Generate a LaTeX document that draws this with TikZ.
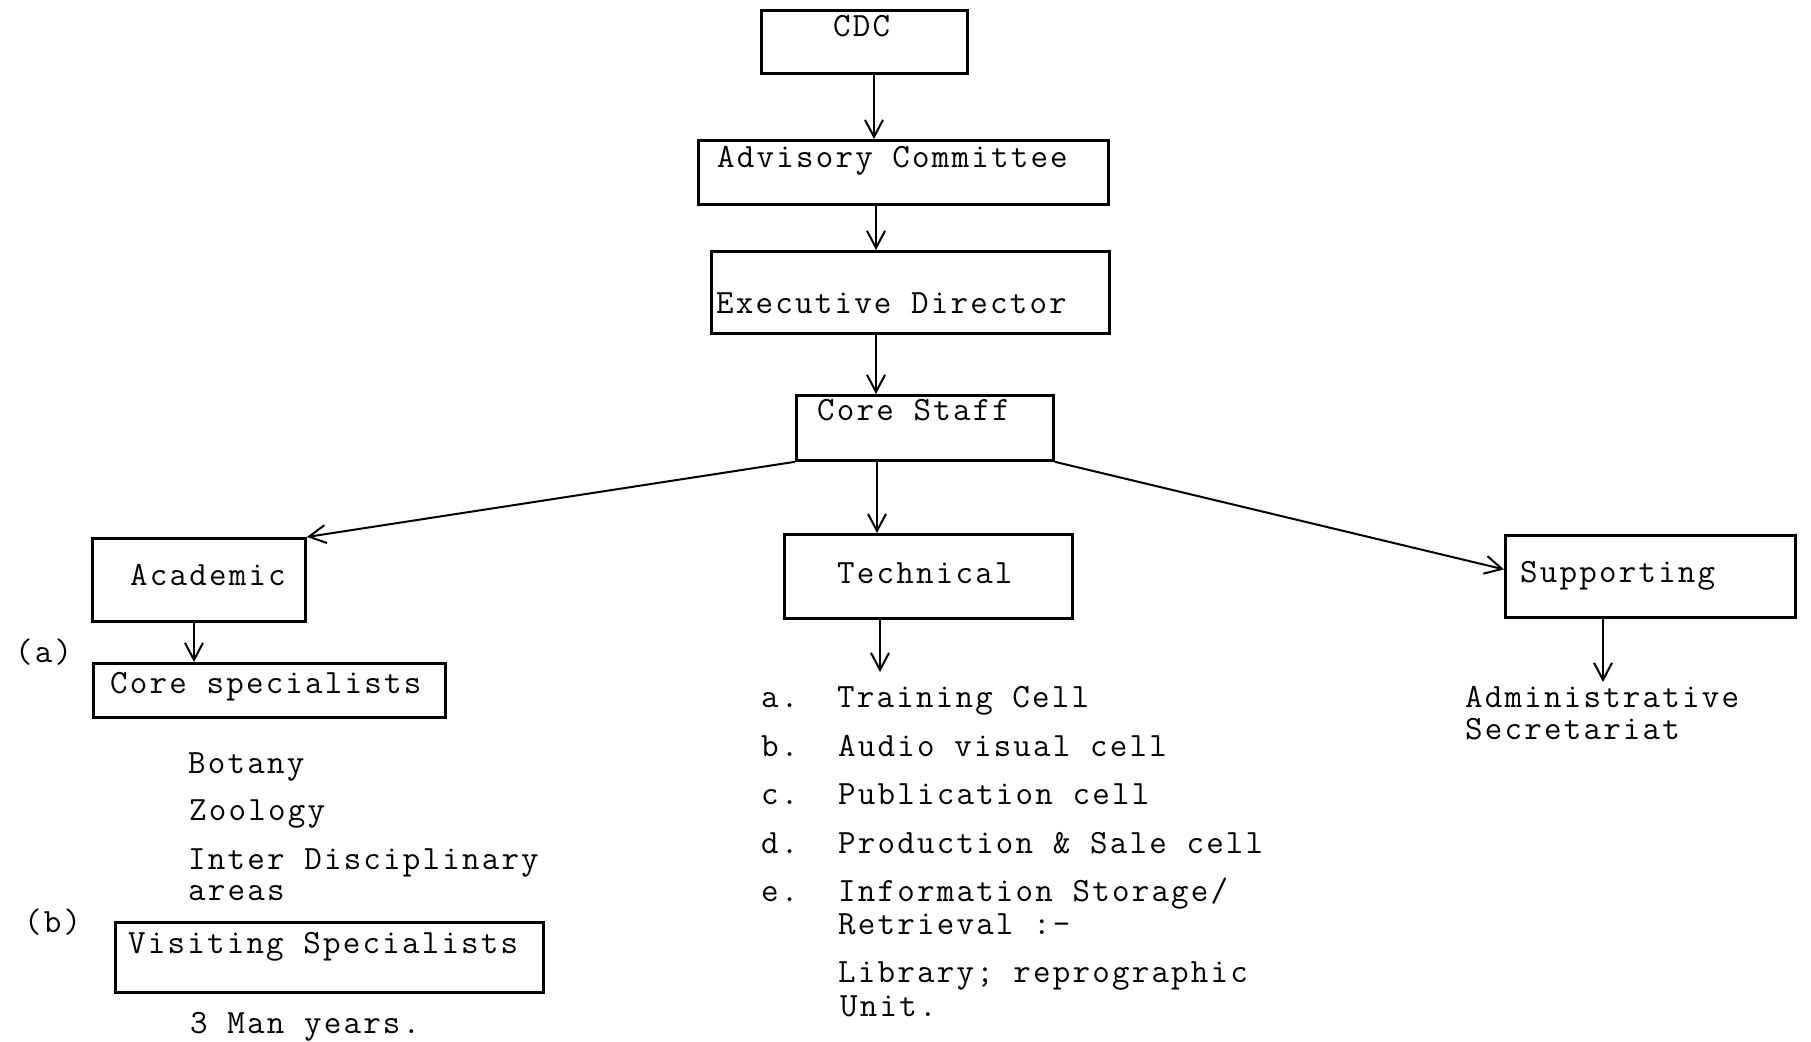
\documentclass[tikz,border=0pt]{standalone}
\usepackage{fontspec}
\setmonofont{Latin Modern Mono}[LetterSpace=6.5]
\usetikzlibrary{arrows.meta,calc}
\begin{document}
\begin{tikzpicture}[x=1pt,y=-1pt,
  box/.style={draw, line width=2.8pt, inner sep=0pt, anchor=north west},
  txt/.style={anchor=base west, inner sep=0pt, font=\ttfamily\fontsize{34}{40}\selectfont},
  arr/.style={line width=2pt, -{Straight Barb[length=17pt,width=18pt,line width=2pt]}}]
\useasboundingbox (0,0) rectangle (1811,1041);
% boxes
\node[box, minimum width=206pt, minimum height=63pt] (cdc) at (760,9) {};
\node[box, minimum width=410pt, minimum height=64pt] (adv) at (697,139) {};
\node[box, minimum width=398pt, minimum height=82pt] (exe) at (710,250) {};
\node[box, minimum width=257pt, minimum height=65pt] (core) at (795,394) {};
\node[box, minimum width=213pt, minimum height=83pt] (acad) at (91,537) {};
\node[box, minimum width=288pt, minimum height=84pt] (tech) at (783,533) {};
\node[box, minimum width=290pt, minimum height=82pt] (supp) at (1504,534) {};
\node[box, minimum width=352pt, minimum height=54pt] (cspec) at (92,662) {};
\node[box, minimum width=428pt, minimum height=70pt] (vspec) at (114,921) {};
% box texts
\node[txt] (tcdc) at (833,37) {CDC};
\node[txt] (tadv) at (717,167) {Advisory Committee};
\node[txt] (texe) at (716,313) {Executive Director};
\node[txt] (tcore) at (817,420) {Core Staff};
\node[txt] (tacad) at (130,585) {Academic};
\node[txt] (ttech) at (837,583) {Technical};
\node[txt] (tsupp) at (1520,582) {Supporting};
\node[txt] (tcspec) at (110,693) {Core specialists};
\node[txt] (tvspec) at (128,953) {Visiting Specialists};
% academic side
\node[txt] (la) at (15,662) {(a)};
\node[txt] (lb) at (24,932) {(b)};
\node[txt] (bot) at (188,773) {Botany};
\node[txt] (zoo) at (189,820) {Zoology};
\node[txt] (inter) at (188,869) {Inter Disciplinary};
\node[txt] (areas) at (188,900) {areas};
\node[txt] (man) at (190,1033) {3 Man years.};
% technical list
\node[txt] (ia) at (761,707) {a.};
\node[txt] (ta) at (837,707) {Training Cell};
\node[txt] (ib) at (761,756) {b.};
\node[txt] (tb) at (838,756) {Audio visual cell};
\node[txt] (ic) at (761,804) {c.};
\node[txt] (tc) at (838,804) {Publication cell};
\node[txt] (id) at (761,853) {d.};
\node[txt] (td) at (838,853) {Production \& Sale cell};
\node[txt] (ie) at (761,901) {e.};
\node[txt] (te) at (838,901) {Information Storage/};
\node[txt] (te2) at (838,934) {Retrieval :-};
\node[txt] (lib) at (838,982) {Library; reprographic};
\node[txt] (unit) at (840,1016) {Unit.};
% supporting
\node[txt] (adm) at (1465,707) {Administrative};
\node[txt] (sec) at (1465,739) {Secretariat};
% arrow columns
\coordinate (c1) at (874,0);
\coordinate (c2) at (876,0);
\coordinate (c3) at (877,0);
\coordinate (c4) at (194,0);
\coordinate (c5) at (880,0);
\coordinate (c6) at (1603,0);
\coordinate (techend) at (880,672);
\coordinate (suppend) at (1603,682);
% connectors
\draw[arr] (cdc.south -| c1) -- (adv.north -| c1);
\draw[arr] (adv.south -| c2) -- (exe.north -| c2);
\draw[arr] (exe.south -| c2) -- (core.north -| c2);
\draw[arr] (core.south -| c3) -- (tech.north -| c3);
\draw[arr] (core.south west) -- (acad.north east);
\draw[arr] (core.south east) -- ([yshift=7pt]supp.west);
\draw[arr] (acad.south -| c4) -- (cspec.north -| c4);
\draw[arr] (tech.south -| c5) -- (techend);
\draw[arr] (supp.south -| c6) -- (suppend);
\end{tikzpicture}
\end{document}
